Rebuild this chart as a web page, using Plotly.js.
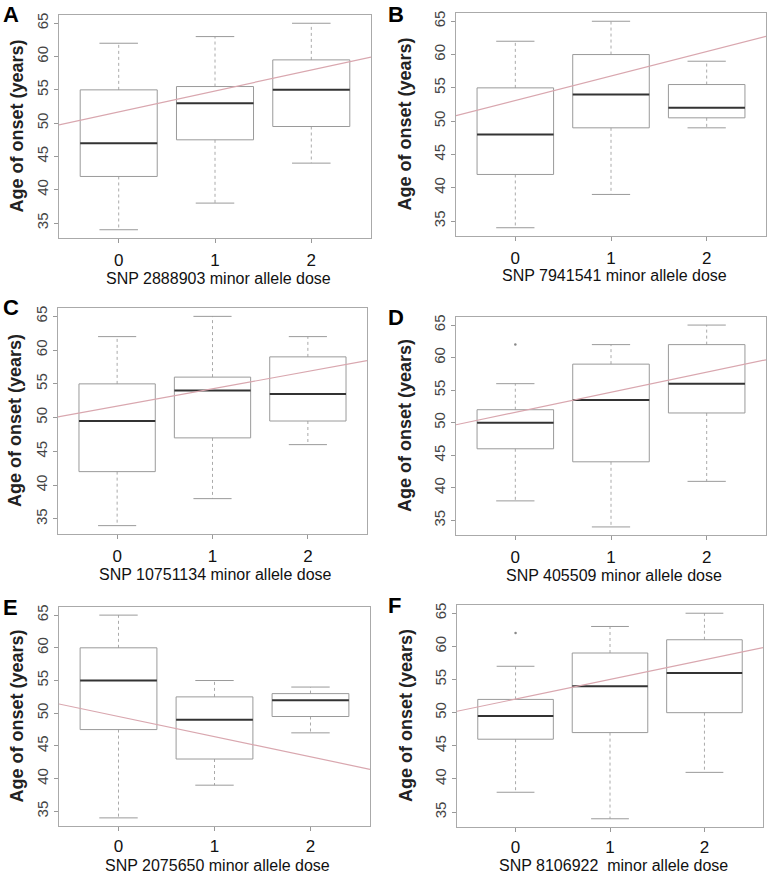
<!DOCTYPE html>
<html>
<head>
<meta charset="utf-8">
<script src="https://cdn.plot.ly/plotly-3.0.1.min.js"></script>
<style>
  html, body { margin: 0; padding: 0; background: #fff; }
  #chart { width: 769px; height: 876px; }
</style>
</head>
<body>
<div id="chart"></div>
<script>
// panel letters and x titles
const panelLetters = ['A', 'B', 'C', 'D', 'E', 'F'];
const snpTitles = [
  'SNP 2888903 minor allele dose',
  'SNP 7941541 minor allele dose',
  'SNP 10751134 minor allele dose',
  'SNP 405509 minor allele dose',
  'SNP 2075650 minor allele dose',
  'SNP 8106922  minor allele dose'
];
const doses = [0, 1, 2];

// box statistics per panel, one value per dose
const lowerWhisker = [[34, 38, 44], [34, 39, 49], [34, 38, 46], [38, 34, 41], [34, 39, 47], [38, 34, 41]];
const q1 = [[42, 47.5, 49.5], [42, 49, 50.5], [42, 47, 49.5], [46, 44, 51.5], [47.5, 43, 49.5], [46, 47, 50]];
const medians = [[47, 53, 55], [48, 54, 52], [49.5, 54, 53.5], [50, 53.5, 56], [55, 49, 52], [49.5, 54, 56]];
const q3 = [[55, 55.5, 59.5], [55, 60, 55.5], [55, 56, 59], [52, 59, 62], [60, 52.5, 53], [52, 59, 61]];
const upperWhisker = [[62, 63, 65], [62, 65, 59], [62, 65, 62], [56, 62, 65], [65, 55, 54], [57, 63, 65]];

// outlying points
const outlierDose = [[], [], [], [0], [], [0]];
const outlierAge = [[], [], [], [62], [], [62]];

// fitted regression line: age = intercept + slope * dose
const fitIntercept = [51.7, 53.1, 51.7, 51.6, 49.5, 52.05];
const fitSlope = [3.14, 3.68, 2.57, 3.08, -3.08, 2.96];

const yTicks = [35, 40, 45, 50, 55, 60, 65];

// plot frames in pixels [left, top, right, bottom]
const W = 769, H = 876;
const frames = [
  [59, 15, 371, 238],
  [456, 13, 766, 236],
  [58, 308, 367, 534],
  [456, 317, 766, 535],
  [59, 607, 370, 826],
  [457, 605, 763, 827]
];

const xRange = [-0.62, 2.62];
const yRange = [32.76, 66.24];
const halfBox = 0.4, halfCap = 0.2;

const fontFam = 'Liberation Sans, Arial, sans-serif';
const boxColor = '#9a9a9a';
const traces = [];
const layout = {
  width: W, height: H,
  margin: { l: 0, r: 0, t: 0, b: 0 },
  paper_bgcolor: '#fff', plot_bgcolor: '#fff',
  showlegend: false,
  font: { family: fontFam, color: '#222' },
  annotations: []
};

frames.forEach((f, p) => {
  const n = p === 0 ? '' : String(p + 1);
  const xa = 'x' + n, ya = 'y' + n;
  const bottomRow = p >= 4;

  const bx = [], by = [], wx = [], wy = [], cx = [], cy = [], mx = [], my = [];
  doses.forEach((d, i) => {
    bx.push(d - halfBox, d + halfBox, d + halfBox, d - halfBox, d - halfBox, null);
    by.push(q1[p][i], q1[p][i], q3[p][i], q3[p][i], q1[p][i], null);
    wx.push(d, d, null, d, d, null);
    wy.push(q3[p][i], upperWhisker[p][i], null, q1[p][i], lowerWhisker[p][i], null);
    cx.push(d - halfCap, d + halfCap, null, d - halfCap, d + halfCap, null);
    cy.push(upperWhisker[p][i], upperWhisker[p][i], null, lowerWhisker[p][i], lowerWhisker[p][i], null);
    mx.push(d - halfBox, d + halfBox, null);
    my.push(medians[p][i], medians[p][i], null);
  });

  traces.push({ x: wx, y: wy, xaxis: xa, yaxis: ya, mode: 'lines', type: 'scatter',
    line: { color: '#aaa', width: 1, dash: 'dot' }, hoverinfo: 'skip' });
  traces.push({ x: cx, y: cy, xaxis: xa, yaxis: ya, mode: 'lines', type: 'scatter',
    line: { color: boxColor, width: 1 }, hoverinfo: 'skip' });
  traces.push({ x: bx, y: by, xaxis: xa, yaxis: ya, mode: 'lines', type: 'scatter',
    line: { color: boxColor, width: 1 }, hoverinfo: 'skip' });
  traces.push({ x: mx, y: my, xaxis: xa, yaxis: ya, mode: 'lines', type: 'scatter',
    line: { color: '#333', width: 2 }, hoverinfo: 'skip' });
  if (outlierDose[p].length) {
    traces.push({ x: outlierDose[p], y: outlierAge[p], xaxis: xa, yaxis: ya, mode: 'markers', type: 'scatter',
      marker: { color: '#888', size: 2.5 }, hoverinfo: 'skip' });
  }
  // regression line across the full x range
  traces.push({
    x: xRange,
    y: xRange.map((x) => fitIntercept[p] + fitSlope[p] * x),
    xaxis: xa, yaxis: ya, mode: 'lines', type: 'scatter',
    line: { color: '#d9a7af', width: 1.2 }, hoverinfo: 'skip'
  });

  layout['xaxis' + n] = {
    domain: [f[0] / W, f[2] / W], anchor: ya,
    range: xRange, tickvals: doses, ticktext: doses.map(String),
    ticks: 'outside', ticklen: 4, tickcolor: '#999', ticklabelstandoff: bottomRow ? 1 : 3,
    showline: true, mirror: true, linecolor: '#aaa', linewidth: 1,
    showgrid: false, zeroline: false,
    tickfont: { size: 17, color: '#111', family: fontFam }
  };
  layout['yaxis' + n] = {
    domain: [1 - f[3] / H, 1 - f[1] / H], anchor: xa,
    range: yRange, tickvals: yTicks, tickangle: -90,
    ticks: 'outside', ticklen: 4, tickcolor: '#999',
    showline: true, mirror: true, linecolor: '#aaa', linewidth: 1,
    showgrid: false, zeroline: false,
    tickfont: { size: 15, color: '#444', family: fontFam }
  };

  const cxPix = (f[0] + f[2]) / 2, cyPix = (f[1] + f[3]) / 2;
  // x title
  layout.annotations.push({
    text: snpTitles[p], xref: 'paper', yref: 'paper',
    x: (cxPix + 3) / W, y: 1 - Math.min(f[3] + 40, 865) / H, xanchor: 'center', yanchor: 'middle',
    showarrow: false, font: { size: 16, color: '#111', family: fontFam }
  });
  // y title
  layout.annotations.push({
    text: '<b>Age of onset (years)</b>', xref: 'paper', yref: 'paper',
    x: (f[0] - (p % 2 === 0 ? 43 : 51)) / W, y: 1 - cyPix / H, xanchor: 'center', yanchor: 'middle',
    textangle: -90, showarrow: false, font: { size: 18, color: '#222', family: fontFam }
  });
  // panel letter
  layout.annotations.push({
    text: '<b>' + panelLetters[p] + '</b>', xref: 'paper', yref: 'paper',
    x: (p % 2 === 0 ? 1 : 386) / W, y: 1 - Math.max(f[1], 15) / H, xanchor: 'left', yanchor: 'middle',
    showarrow: false, font: { size: 22, color: '#000', family: fontFam }
  });
});

Plotly.newPlot('chart', traces, layout, { displayModeBar: false, staticPlot: true });
</script>
</body>
</html>
